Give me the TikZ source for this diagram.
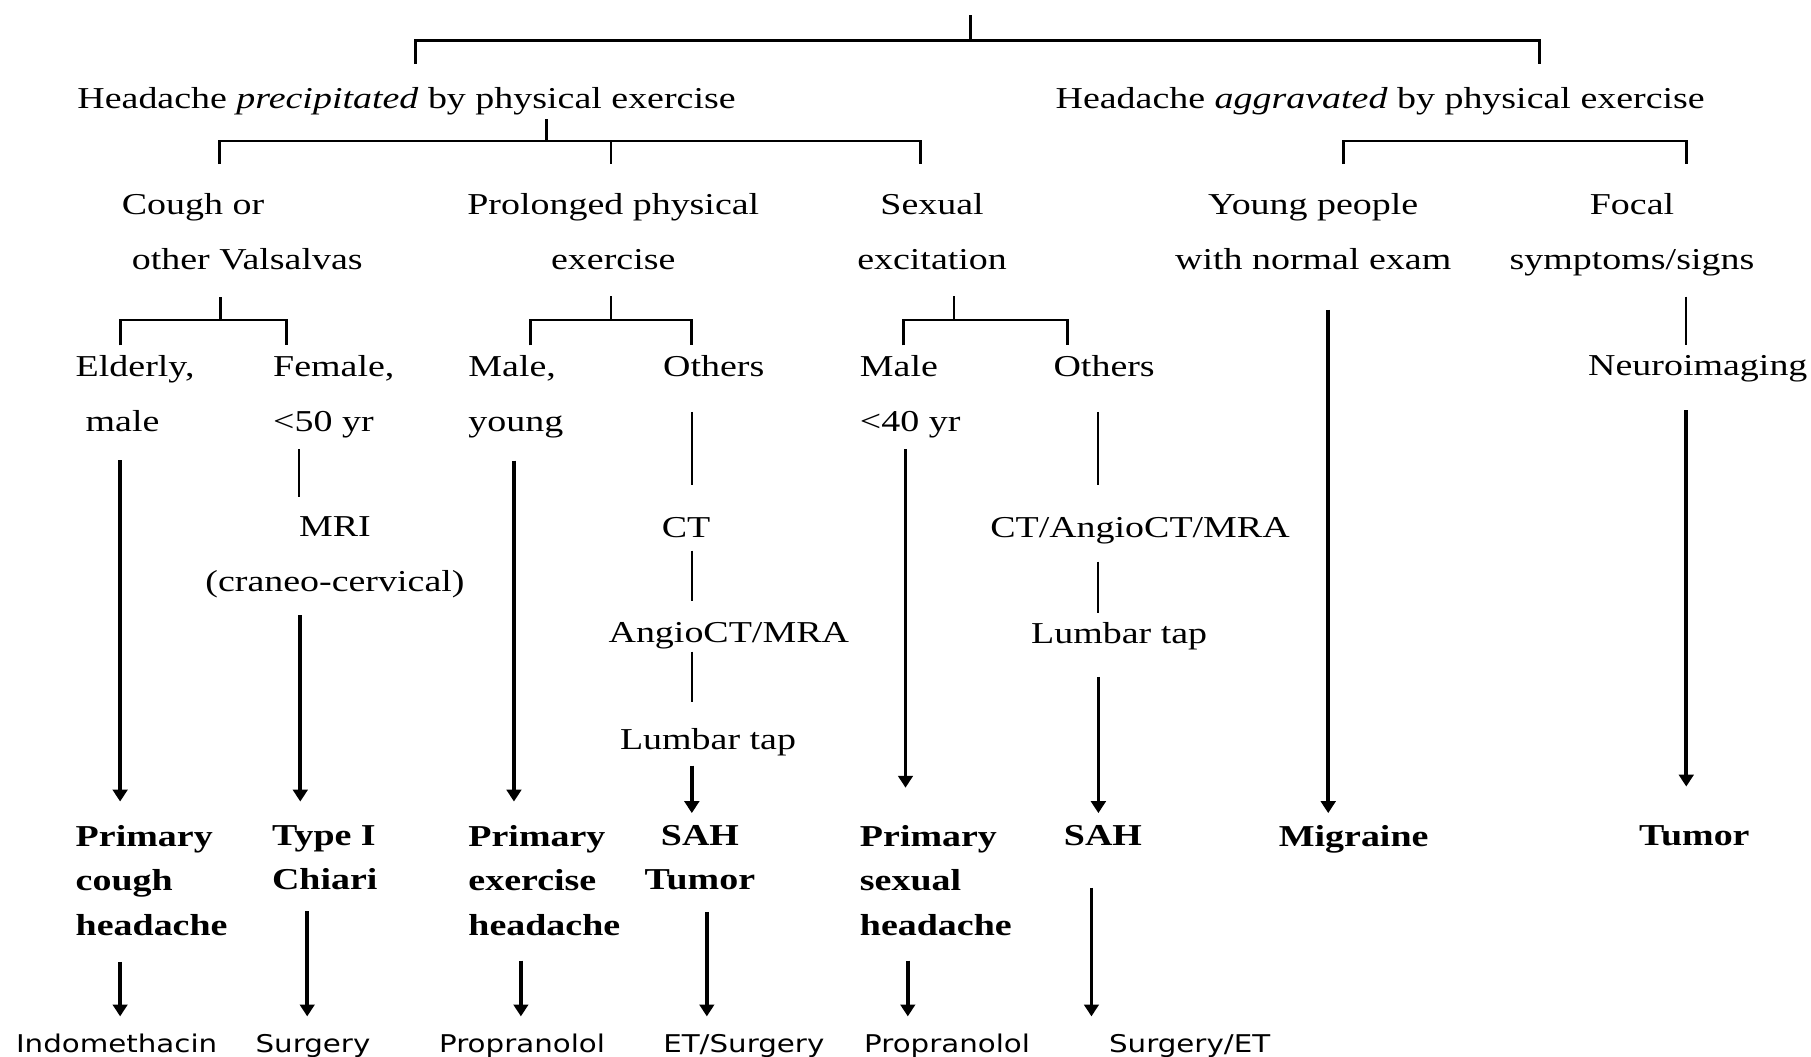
\documentclass[tikz,border=0pt]{standalone}
\usepackage{fontspec}
\setmainfont{Liberation Serif}[FakeStretch=1.25]
\newfontfamily\treatfont{DejaVu Sans}[FakeStretch=1.2]
\usetikzlibrary{calc}
\usetikzlibrary{arrows.meta}

\begin{document}
\begin{tikzpicture}[
                x=0.35pt, y=-0.35pt,
                textnode/.style={inner sep=0pt, font=\fontsize{9.2}{16.7}\selectfont},
                boldnode/.style={inner sep=0pt, align=left, font=\fontsize{9.2}{13.5}\selectfont\bfseries},
                drugnode/.style={inner sep=0pt, font=\treatfont\fontsize{7.4}{9}\selectfont},
                forkline/.style={line width=0.85pt},
                thinline/.style={line width=0.65pt},
                arrowline/.style={line width=1.1pt, -{Triangle[length=3.6pt, width=4.4pt]}},
            ]
            \path[use as bounding box, fill=white] (0,0) rectangle (1568,915);

            % Nodes
            \node[textnode, anchor=north]        (prec)      at (352,75)    {Headache \textit{precipitated} by physical exercise};
            \node[textnode, anchor=north]        (aggr)      at (1195,75)   {Headache \textit{aggravated} by physical exercise};

            \node[textnode, anchor=north west, align=left]     (cough)     at (105,167)   {Cough or\\\hspace*{3pt}other Valsalvas};
            \node[textnode, anchor=north, align=center]        (prolonged) at (531,167)   {Prolonged physical\\exercise};
            \node[textnode, anchor=north, align=center]        (sexual)    at (807,167)   {Sexual\\excitation};
            \node[textnode, anchor=north, align=center]        (young)     at (1137,167)  {Young people\\with normal exam};
            \node[textnode, anchor=north, align=center]        (focal)     at (1413,167)  {Focal\\symptoms/signs};

            \node[textnode, anchor=north west, align=left]     (elderly)   at (65,307)    {Elderly,\\\hspace*{3pt}male};
            \node[textnode, anchor=north west, align=left]     (female)    at (236,307)   {Female,\\<50 yr};
            \node[textnode, anchor=north west, align=left]     (maleyoung) at (405,307)   {Male,\\young};
            \node[textnode, anchor=north]                      (others1)   at (618,307)   {Others};
            \node[textnode, anchor=north west, align=left]     (male40)    at (744,307)   {Male\\<40 yr};
            \node[textnode, anchor=north]                      (others2)   at (956,307)   {Others};
            \node[textnode, anchor=north]                      (neuro)     at (1470,307)  {Neuroimaging};

            \node[textnode, anchor=north, align=center]        (mri)       at (290,447)   {MRI\\(craneo-cervical)};
            \node[textnode, anchor=north]                      (ct)        at (594,447)   {CT};
            \node[textnode, anchor=north]                      (angio)     at (631,538)   {AngioCT/MRA};
            \node[textnode, anchor=north]                      (lumbar1)   at (613,630)   {Lumbar tap};
            \node[textnode, anchor=north]                      (ctam)      at (987,447)   {CT/AngioCT/MRA};
            \node[textnode, anchor=north]                      (lumbar2)   at (969,538)   {Lumbar tap};

            \node[boldnode, anchor=north west]                 (pch)       at (65,714)    {Primary\\cough\\headache};
            \node[boldnode, anchor=north west]                 (chiari)    at (235,714)   {Type I\\Chiari};
            \node[boldnode, anchor=north west]                 (peh)       at (405,714)   {Primary\\exercise\\headache};
            \node[boldnode, anchor=north, align=center]        (sahtumor)  at (606,714)   {SAH\\Tumor};
            \node[boldnode, anchor=north west]                 (psh)       at (744,714)   {Primary\\sexual\\headache};
            \node[boldnode, anchor=north]                      (sah)       at (955,714)   {SAH};
            \node[boldnode, anchor=north]                      (migraine)  at (1172,714)  {Migraine};
            \node[boldnode, anchor=north]                      (tumor)     at (1467,714)  {Tumor};

            \node[drugnode, anchor=north]        (indo)      at (101,895)   {Indomethacin};
            \node[drugnode, anchor=north]        (surg1)     at (271,895)   {Surgery};
            \node[drugnode, anchor=north]        (prop1)     at (452,895)   {Propranolol};
            \node[drugnode, anchor=north]        (etsurg)    at (644,895)   {ET/Surgery};
            \node[drugnode, anchor=north]        (prop2)     at (820,895)   {Propranolol};
            \node[drugnode, anchor=north]        (surget)    at (1030,895)  {Surgery/ET};

            %Lines
            \coordinate (top)    at (840,13);
            \coordinate (split0) at (840,35);
            \coordinate (split1) at (473,122);
            \coordinate (split2) at (191,277);
            \coordinate (split3) at (529,277);
            \coordinate (split4) at (826,277);

            \draw[forkline] (top) -- (split0);
            \draw[forkline] ($(prec.north)+(8,-20)$) |- (split0) -| ($(aggr.north)+(138,-20)$);
            \draw[forkline] ($(prec.south)+(121,3)$) -- (split1);
            \draw[forkline] ($(cough.north west)+(85,-25)$) |- (split1) -| ($(sexual.north)+(-10,-25)$);
            \draw[forkline] (split1) -| ($(prolonged.north)+(-2,-25)$);
            \draw[forkline] ($(young.north)+(26,-25)$) |- ($(focal.north)+(47,-45)$) -- ($(focal.north)+(47,-25)$);

            \draw[forkline] ($(cough.south west)+(86,23)$) -- (split2);
            \draw[forkline] ($(elderly.north west)+(39,-8)$) |- (split2) -| ($(female.north west)+(12,-8)$);
            \draw[forkline] ($(prolonged.south)+(-2,22)$) -- (split3);
            \draw[forkline] ($(maleyoung.north west)+(54,-8)$) |- (split3) -| ($(others1.north)+(-19,-8)$);
            \draw[forkline] ($(sexual.south)+(19,22)$) -- (split4);
            \draw[forkline] ($(male40.north west)+(38,-8)$) |- (split4) -| ($(others2.north)+(-32,-8)$);
            \draw[thinline] ($(focal.south)+(47,17)$) -- ($(neuro.north)+(-10,-8)$);

            \draw[arrowline] ($(young.south)+(13,34)$) -- ($(migraine.north)+(-22,-10)$);
            \draw[arrowline] ($(elderly.south west)+(39,24)$) -- ($(pch.north west)+(39,-20)$);
            \draw[thinline] ($(female.south west)+(23,9)$) -- ($(mri.north)+(-31,-17)$);
            \draw[arrowline] ($(mri.south)+(-30,14)$) -- ($(chiari.north west)+(25,-20)$);
            \draw[arrowline] ($(maleyoung.south west)+(40,19)$) -- ($(peh.north west)+(40,-20)$);
            \draw[thinline] ($(others1.south)+(-19,30)$) -- ($(ct.north)+(5,-27)$);
            \draw[thinline] ($(ct.south)+(5,11)$) -- ($(angio.north)+(-32,-18)$);
            \draw[thinline] ($(angio.south)+(-32,2)$) -- ($(lumbar1.north)+(-14,-22)$);
            \draw[arrowline] ($(lumbar1.south)+(-14,8)$) -- ($(sahtumor.north)+(-7,-10)$);
            \draw[arrowline] ($(male40.south west)+(40,9)$) -- ($(psh.north west)+(40,-32)$);
            \draw[thinline] ($(others2.south)+(-5,30)$) -- ($(ctam.north)+(-36,-27)$);
            \draw[thinline] ($(ctam.south)+(-36,15)$) -- ($(lumbar2.north)+(-18,-7)$);
            \draw[arrowline] ($(lumbar2.south)+(-18,23)$) -- ($(sah.north)+(-4,-10)$);
            \draw[arrowline] ($(neuro.south)+(-10,24)$) -- ($(tumor.north)+(-7,-33)$);

            \draw[arrowline] ($(pch.south west)+(39,22)$) -- ($(indo.north)+(3,-15)$);
            \draw[arrowline] ($(chiari.south west)+(31,18)$) -- ($(surg1.north)+(-5,-15)$);
            \draw[arrowline] ($(peh.south west)+(46,21)$) -- ($(prop1.north)+(-1,-15)$);
            \draw[arrowline] ($(sahtumor.south)+(6,18)$) -- ($(etsurg.north)+(-32,-15)$);
            \draw[arrowline] ($(psh.south west)+(42,21)$) -- ($(prop2.north)+(-34,-15)$);
            \draw[arrowline] ($(sah.south)+(-10,36)$) -- ($(surget.north)+(-85,-15)$);
        \end{tikzpicture}
\end{document}
